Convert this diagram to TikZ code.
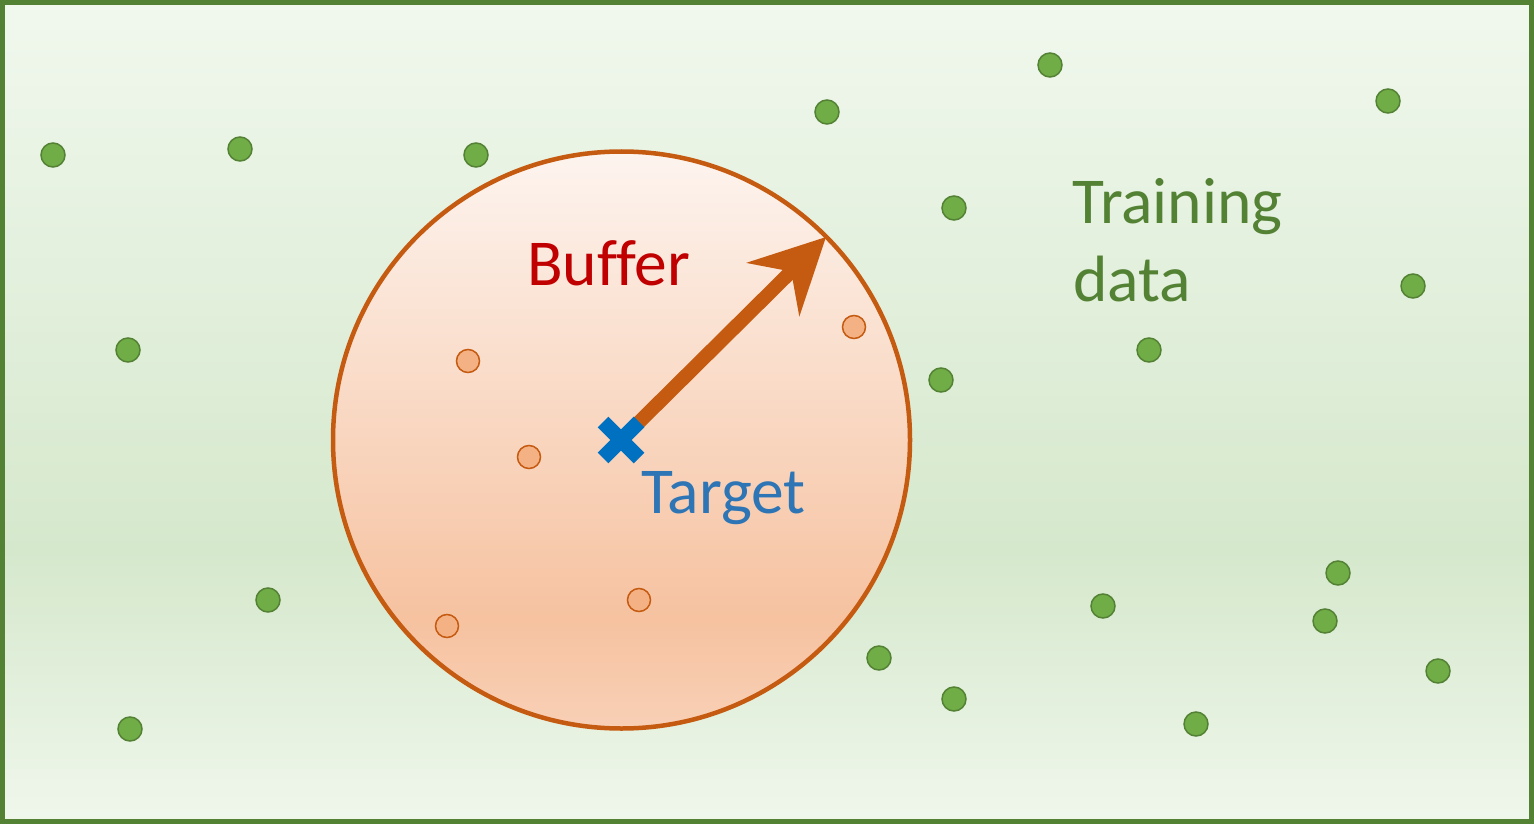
\documentclass[tikz,border=0pt]{standalone}
\usepackage{fontspec}
\setmainfont{Carlito}[Ligatures=NoCommon]
\usetikzlibrary{arrows.meta}
\definecolor{bgtop}{RGB}{241,248,238}
\definecolor{bgmid}{RGB}{213,232,204}
\definecolor{bgbot}{RGB}{240,247,236}
\definecolor{buftop}{RGB}{253,244,239}
\definecolor{bufmid}{RGB}{246,194,160}
\definecolor{bufbot}{RGB}{248,208,182}
\definecolor{framegreen}{RGB}{84,130,53}
\definecolor{dotgreen}{RGB}{112,173,71}
\definecolor{dotorange}{RGB}{244,177,131}
\definecolor{rustc}{RGB}{197,90,17}
\definecolor{bufred}{RGB}{192,0,0}
\definecolor{tblue}{RGB}{46,117,182}
\definecolor{xblue}{RGB}{0,112,192}
\pgfdeclareverticalshading{bgshade}{100bp}{color(0bp)=(bgbot); color(25bp)=(bgbot); color(41.6bp)=(bgmid); color(75bp)=(bgtop); color(100bp)=(bgtop)}
\pgfdeclareverticalshading{bufshade}{100bp}{color(0bp)=(bufbot); color(25bp)=(bufbot); color(34.5bp)=(bufmid); color(75bp)=(buftop); color(100bp)=(buftop)}
\begin{document}
\begin{tikzpicture}[x=1pt,y=-1pt,
  gdot/.style={circle, draw=framegreen, fill=dotgreen, line width=1.5pt, minimum size=24pt, inner sep=0pt},
  odot/.style={circle, draw=rustc, fill=dotorange, line width=1.5pt, minimum size=23pt, inner sep=0pt},
  lbl/.style={anchor=base west, inner sep=0pt, font=\fontsize{65.5}{77}\selectfont},
  radiusarrow/.style={draw=rustc, line width=14pt, -{Stealth[length=74pt, width=74pt, inset=25pt, fill=rustc]}},
  xarm/.style={draw=xblue, line width=15pt}]
\useasboundingbox (0,0) rectangle (1534,824);
\shade[shading=bgshade] (0,0) rectangle (1534,824);
\draw[framegreen, line width=5pt] (2.5,2.5) rectangle (1531.5,821.5);
% green training points
\foreach \n/\x/\y in {1/53/155, 2/240/149, 3/476/155, 4/827/112, 5/1050/65, 6/1388/101, 7/954/208, 8/1413/286, 9/128/350, 10/941/380, 11/1149/350, 12/1338/573, 13/268/600, 14/1103/606, 15/1325/621, 16/879/658, 17/1438/671, 18/954/699, 19/1196/724, 20/130/729}
  \node[gdot] (g\n) at (\x,\y) {};
% buffer circle
\node[circle, draw=rustc, line width=4.5pt, shading=bufshade, minimum size=577pt, inner sep=0pt] (buffer) at (621.5,440) {};
% orange points in buffer
\foreach \n/\x/\y in {1/468/361, 2/854/327, 3/529/457, 4/447/626, 5/639/600}
  \node[odot] (o\n) at (\x,\y) {};
% radius arrow and target
\coordinate (t) at (621,440);
\coordinate (rim) at (826,237);
\draw[radiusarrow] (t) -- (rim);
\draw[xarm] (t) ++(-18,-18) -- ++(36,36);
\draw[xarm] (t) ++(-18,18) -- ++(36,-36);
% labels
\node[lbl, text=bufred] (buflbl) at (527,285) {Buffer};
\node[lbl, text=tblue] (tgtlbl) at (641,513) {Target};
\node[lbl, text=framegreen] (train1) at (1072,223) {Training};
\node[lbl, text=framegreen] (train2) at (1073,301) {data};
\end{tikzpicture}
\end{document}
